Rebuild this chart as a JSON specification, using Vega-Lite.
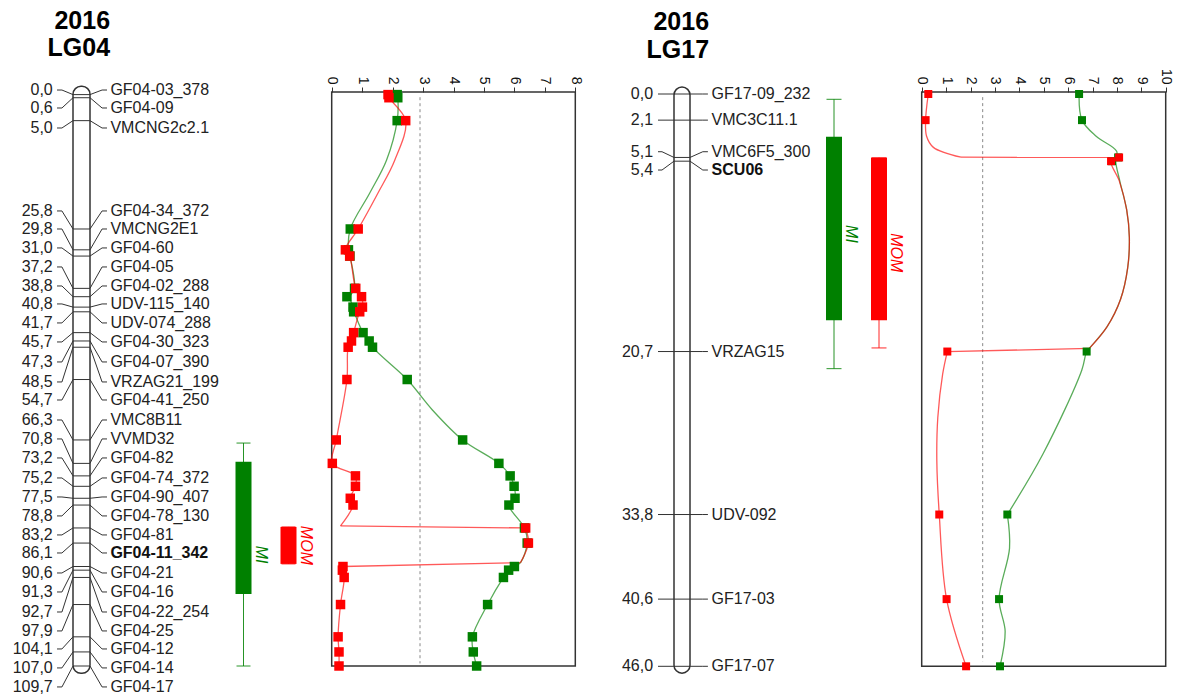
{
  "$schema": "https://vega.github.io/schema/vega-lite/v6.json",
  "width": 1177,
  "height": 698,
  "autosize": {"type": "none"},
  "padding": 0,
  "background": "white",
  "config": {
    "view": {"stroke": null},
    "font": "Liberation Sans",
    "locale": {"number": {"decimal": ",", "thousands": ".", "grouping": [3], "currency": ["", ""]}}
  },
  "datasets": {
    "chroms": [
      {"chr": "LG04", "year": "2016"},
      {"chr": "LG17", "year": "2016"}
    ],
    "map04": [
      {"marker": "GF04-03_378", "pos": 0.0, "labelPos": -0.88},
      {"marker": "GF04-09", "pos": 0.6, "labelPos": 2.57},
      {"marker": "VMCNG2c2.1", "pos": 5.0, "labelPos": 6.41},
      {"marker": "GF04-34_372", "pos": 25.8, "labelPos": 22.34},
      {"marker": "VMCNG2E1", "pos": 29.8, "labelPos": 25.8},
      {"marker": "GF04-60", "pos": 31.0, "labelPos": 29.44},
      {"marker": "GF04-05", "pos": 37.2, "labelPos": 33.09},
      {"marker": "GF04-02_288", "pos": 38.8, "labelPos": 36.74},
      {"marker": "UDV-115_140", "pos": 40.8, "labelPos": 40.19},
      {"marker": "UDV-074_288", "pos": 41.7, "labelPos": 43.84},
      {"marker": "GF04-30_323", "pos": 45.7, "labelPos": 47.49},
      {"marker": "GF04-07_390", "pos": 47.3, "labelPos": 51.33},
      {"marker": "VRZAG21_199", "pos": 48.5, "labelPos": 55.17},
      {"marker": "GF04-41_250", "pos": 54.7, "labelPos": 58.63},
      {"marker": "VMC8B11", "pos": 66.3, "labelPos": 62.47},
      {"marker": "VVMD32", "pos": 70.8, "labelPos": 66.11},
      {"marker": "GF04-82", "pos": 73.2, "labelPos": 69.76},
      {"marker": "GF04-74_372", "pos": 75.2, "labelPos": 73.6},
      {"marker": "GF04-90_407", "pos": 77.5, "labelPos": 77.25},
      {"marker": "GF04-78_130", "pos": 78.8, "labelPos": 80.89},
      {"marker": "GF04-81", "pos": 83.2, "labelPos": 84.54},
      {"marker": "GF04-11_342", "pos": 86.1, "labelPos": 88.0},
      {"marker": "GF04-21", "pos": 90.6, "labelPos": 91.84},
      {"marker": "GF04-16", "pos": 91.3, "labelPos": 95.49},
      {"marker": "GF04-22_254", "pos": 92.7, "labelPos": 99.33},
      {"marker": "GF04-25", "pos": 97.9, "labelPos": 102.97},
      {"marker": "GF04-12", "pos": 104.1, "labelPos": 106.43},
      {"marker": "GF04-14", "pos": 107.0, "labelPos": 110.07},
      {"marker": "GF04-17", "pos": 109.7, "labelPos": 113.72}
    ],
    "map17": [
      {"marker": "GF17-09_232", "pos": 0.0, "labelPos": 0.0},
      {"marker": "VMC3C11.1", "pos": 2.1, "labelPos": 2.1},
      {"marker": "VMC6F5_300", "pos": 5.1, "labelPos": 4.64},
      {"marker": "SCU06", "pos": 5.4, "labelPos": 6.11},
      {"marker": "VRZAG15", "pos": 20.7, "labelPos": 20.7},
      {"marker": "UDV-092", "pos": 33.8, "labelPos": 33.8},
      {"marker": "GF17-03", "pos": 40.6, "labelPos": 40.6},
      {"marker": "GF17-07", "pos": 46.0, "labelPos": 46.0}
    ],
    "qtl04": [
      {"trait": "MI", "lo": 66.9, "q1": 70.5, "q2": 95.9, "hi": 109.7},
      {"trait": "MOM", "lo": 83.0, "q1": 83.0, "q2": 90.1, "hi": 90.1}
    ],
    "qtl17": [
      {"trait": "MI", "lo": 0.43, "q1": 3.43, "q2": 18.18, "hi": 22.07},
      {"trait": "MOM", "lo": 5.12, "q1": 5.12, "q2": 18.18, "hi": 20.41}
    ],
    "lod04": [
      {"trait": "MI", "cM": 0.0, "lod": 2.15}, {"trait": "MI", "cM": 0.6, "lod": 2.17},
      {"trait": "MI", "cM": 5.0, "lod": 2.15}, {"trait": "MI", "cM": 25.8, "lod": 0.61},
      {"trait": "MI", "cM": 29.8, "lod": 0.55}, {"trait": "MI", "cM": 31.0, "lod": 0.6},
      {"trait": "MI", "cM": 37.2, "lod": 0.75}, {"trait": "MI", "cM": 38.8, "lod": 0.5},
      {"trait": "MI", "cM": 40.8, "lod": 0.7}, {"trait": "MI", "cM": 41.7, "lod": 0.72},
      {"trait": "MI", "cM": 45.7, "lod": 1.03}, {"trait": "MI", "cM": 47.3, "lod": 1.23},
      {"trait": "MI", "cM": 48.5, "lod": 1.34}, {"trait": "MI", "cM": 54.7, "lod": 2.48},
      {"trait": "MI", "cM": 66.3, "lod": 4.3}, {"trait": "MI", "cM": 70.8, "lod": 5.49},
      {"trait": "MI", "cM": 73.2, "lod": 5.86}, {"trait": "MI", "cM": 75.2, "lod": 5.99},
      {"trait": "MI", "cM": 77.5, "lod": 6.02}, {"trait": "MI", "cM": 78.8, "lod": 5.82},
      {"trait": "MI", "cM": 83.2, "lod": 6.33}, {"trait": "MI", "cM": 86.1, "lod": 6.42},
      {"trait": "MI", "cM": 90.6, "lod": 6.0}, {"trait": "MI", "cM": 91.3, "lod": 5.81},
      {"trait": "MI", "cM": 92.7, "lod": 5.64}, {"trait": "MI", "cM": 97.9, "lod": 5.12},
      {"trait": "MI", "cM": 104.1, "lod": 4.62}, {"trait": "MI", "cM": 107.0, "lod": 4.65},
      {"trait": "MI", "cM": 109.7, "lod": 4.76},
      {"trait": "MOM", "cM": 0.0, "lod": 1.85}, {"trait": "MOM", "cM": 0.6, "lod": 1.88},
      {"trait": "MOM", "cM": 5.0, "lod": 2.43}, {"trait": "MOM", "cM": 25.8, "lod": 0.87},
      {"trait": "MOM", "cM": 29.8, "lod": 0.45}, {"trait": "MOM", "cM": 31.0, "lod": 0.59},
      {"trait": "MOM", "cM": 37.2, "lod": 0.79}, {"trait": "MOM", "cM": 38.8, "lod": 0.98},
      {"trait": "MOM", "cM": 40.8, "lod": 1.01}, {"trait": "MOM", "cM": 41.7, "lod": 0.92},
      {"trait": "MOM", "cM": 45.7, "lod": 0.72}, {"trait": "MOM", "cM": 47.3, "lod": 0.65},
      {"trait": "MOM", "cM": 48.5, "lod": 0.54}, {"trait": "MOM", "cM": 54.7, "lod": 0.5},
      {"trait": "MOM", "cM": 66.3, "lod": 0.15}, {"trait": "MOM", "cM": 70.8, "lod": 0.02},
      {"trait": "MOM", "cM": 73.2, "lod": 0.78}, {"trait": "MOM", "cM": 75.2, "lod": 0.78},
      {"trait": "MOM", "cM": 77.5, "lod": 0.61}, {"trait": "MOM", "cM": 78.8, "lod": 0.7},
      {"trait": "MOM", "cM": 83.2, "lod": 6.37}, {"trait": "MOM", "cM": 86.1, "lod": 6.46},
      {"trait": "MOM", "cM": 90.6, "lod": 0.37}, {"trait": "MOM", "cM": 91.3, "lod": 0.35},
      {"trait": "MOM", "cM": 92.7, "lod": 0.41}, {"trait": "MOM", "cM": 97.9, "lod": 0.29},
      {"trait": "MOM", "cM": 104.1, "lod": 0.21}, {"trait": "MOM", "cM": 107.0, "lod": 0.24},
      {"trait": "MOM", "cM": 109.7, "lod": 0.24}
    ],
    "curve04": [
      {"trait": "MI", "seg": 1, "cM": 0.0, "lod": 2.15}, {"trait": "MI", "seg": 1, "cM": 0.6, "lod": 2.17},
      {"trait": "MI", "seg": 1, "cM": 5.0, "lod": 2.15}, {"trait": "MI", "seg": 1, "cM": 12.6, "lod": 1.8},
      {"trait": "MI", "seg": 1, "cM": 18.9, "lod": 1.25}, {"trait": "MI", "seg": 1, "cM": 25.8, "lod": 0.61},
      {"trait": "MI", "seg": 1, "cM": 29.8, "lod": 0.55}, {"trait": "MI", "seg": 1, "cM": 31.0, "lod": 0.6},
      {"trait": "MI", "seg": 1, "cM": 37.2, "lod": 0.75}, {"trait": "MI", "seg": 1, "cM": 38.8, "lod": 0.6},
      {"trait": "MI", "seg": 1, "cM": 40.8, "lod": 0.7}, {"trait": "MI", "seg": 1, "cM": 41.7, "lod": 0.74},
      {"trait": "MI", "seg": 1, "cM": 45.7, "lod": 1.03}, {"trait": "MI", "seg": 1, "cM": 47.3, "lod": 1.23},
      {"trait": "MI", "seg": 1, "cM": 48.5, "lod": 1.34}, {"trait": "MI", "seg": 1, "cM": 54.7, "lod": 2.48},
      {"trait": "MI", "seg": 1, "cM": 60.5, "lod": 3.3},
      {"trait": "MI", "seg": 1, "cM": 66.3, "lod": 4.3}, {"trait": "MI", "seg": 1, "cM": 70.8, "lod": 5.49},
      {"trait": "MI", "seg": 1, "cM": 73.2, "lod": 5.86}, {"trait": "MI", "seg": 1, "cM": 75.2, "lod": 5.99},
      {"trait": "MI", "seg": 1, "cM": 77.5, "lod": 6.02}, {"trait": "MI", "seg": 1, "cM": 78.8, "lod": 5.82},
      {"trait": "MI", "seg": 1, "cM": 83.2, "lod": 6.33}, {"trait": "MI", "seg": 1, "cM": 86.1, "lod": 6.42},
      {"trait": "MI", "seg": 1, "cM": 89.85, "lod": 6.2}, {"trait": "MI", "seg": 1, "cM": 90.6, "lod": 6.0},
      {"trait": "MI", "seg": 1, "cM": 91.3, "lod": 5.81}, {"trait": "MI", "seg": 1, "cM": 92.7, "lod": 5.64},
      {"trait": "MI", "seg": 1, "cM": 97.9, "lod": 5.12}, {"trait": "MI", "seg": 1, "cM": 104.1, "lod": 4.62},
      {"trait": "MI", "seg": 1, "cM": 107.0, "lod": 4.65}, {"trait": "MI", "seg": 1, "cM": 109.7, "lod": 4.76},
      {"trait": "MOM", "seg": 1, "cM": 0.0, "lod": 1.85}, {"trait": "MOM", "seg": 1, "cM": 0.6, "lod": 1.88},
      {"trait": "MOM", "seg": 1, "cM": 5.0, "lod": 2.43}, {"trait": "MOM", "seg": 1, "cM": 12.6, "lod": 2.07},
      {"trait": "MOM", "seg": 1, "cM": 18.9, "lod": 1.52}, {"trait": "MOM", "seg": 1, "cM": 25.8, "lod": 0.87},
      {"trait": "MOM", "seg": 1, "cM": 29.8, "lod": 0.45}, {"trait": "MOM", "seg": 1, "cM": 31.0, "lod": 0.59},
      {"trait": "MOM", "seg": 1, "cM": 37.2, "lod": 0.79}, {"trait": "MOM", "seg": 1, "cM": 38.8, "lod": 0.98},
      {"trait": "MOM", "seg": 1, "cM": 40.8, "lod": 1.01}, {"trait": "MOM", "seg": 1, "cM": 41.7, "lod": 0.92},
      {"trait": "MOM", "seg": 1, "cM": 45.7, "lod": 0.72}, {"trait": "MOM", "seg": 1, "cM": 47.3, "lod": 0.65},
      {"trait": "MOM", "seg": 1, "cM": 48.5, "lod": 0.54}, {"trait": "MOM", "seg": 1, "cM": 54.7, "lod": 0.5},
      {"trait": "MOM", "seg": 1, "cM": 66.3, "lod": 0.15}, {"trait": "MOM", "seg": 1, "cM": 70.8, "lod": 0.02},
      {"trait": "MOM", "seg": 1, "cM": 73.2, "lod": 0.78}, {"trait": "MOM", "seg": 1, "cM": 75.2, "lod": 0.78},
      {"trait": "MOM", "seg": 1, "cM": 77.5, "lod": 0.61}, {"trait": "MOM", "seg": 1, "cM": 78.8, "lod": 0.7},
      {"trait": "MOM", "seg": 1, "cM": 82.8, "lod": 0.29},
      {"trait": "MOM", "seg": 2, "cM": 82.8, "lod": 0.29}, {"trait": "MOM", "seg": 2, "cM": 83.2, "lod": 6.37},
      {"trait": "MOM", "seg": 3, "cM": 83.2, "lod": 6.37}, {"trait": "MOM", "seg": 3, "cM": 86.1, "lod": 6.46},
      {"trait": "MOM", "seg": 3, "cM": 89.85, "lod": 6.2},
      {"trait": "MOM", "seg": 4, "cM": 89.85, "lod": 6.2}, {"trait": "MOM", "seg": 4, "cM": 90.6, "lod": 0.37},
      {"trait": "MOM", "seg": 5, "cM": 90.6, "lod": 0.37}, {"trait": "MOM", "seg": 5, "cM": 91.3, "lod": 0.35},
      {"trait": "MOM", "seg": 5, "cM": 92.7, "lod": 0.41}, {"trait": "MOM", "seg": 5, "cM": 97.9, "lod": 0.29},
      {"trait": "MOM", "seg": 5, "cM": 104.1, "lod": 0.21}, {"trait": "MOM", "seg": 5, "cM": 107.0, "lod": 0.24},
      {"trait": "MOM", "seg": 5, "cM": 109.7, "lod": 0.24}
    ],
    "lod17": [
      {"trait": "MI", "cM": 0.0, "lod": 6.45}, {"trait": "MI", "cM": 2.1, "lod": 6.57},
      {"trait": "MI", "cM": 5.1, "lod": 8.05}, {"trait": "MI", "cM": 5.4, "lod": 7.8},
      {"trait": "MI", "cM": 20.7, "lod": 6.76}, {"trait": "MI", "cM": 33.8, "lod": 3.51},
      {"trait": "MI", "cM": 40.6, "lod": 3.17}, {"trait": "MI", "cM": 46.0, "lod": 3.21},
      {"trait": "MOM", "cM": 0.0, "lod": 0.27}, {"trait": "MOM", "cM": 2.1, "lod": 0.16},
      {"trait": "MOM", "cM": 5.1, "lod": 8.09}, {"trait": "MOM", "cM": 5.4, "lod": 7.76},
      {"trait": "MOM", "cM": 20.7, "lod": 1.05}, {"trait": "MOM", "cM": 33.8, "lod": 0.72},
      {"trait": "MOM", "cM": 40.6, "lod": 1.02}, {"trait": "MOM", "cM": 46.0, "lod": 1.82}
    ],
    "curve17": [
      {"trait": "MI", "seg": 1, "cM": 0.0, "lod": 6.45}, {"trait": "MI", "seg": 1, "cM": 2.1, "lod": 6.57},
      {"trait": "MI", "seg": 1, "cM": 3.4, "lod": 7.15}, {"trait": "MI", "seg": 1, "cM": 4.6, "lod": 7.99},
      {"trait": "MI", "seg": 1, "cM": 5.4, "lod": 7.95}, {"trait": "MI", "seg": 1, "cM": 7.0, "lod": 8.12},
      {"trait": "MI", "seg": 1, "cM": 9.3, "lod": 8.4}, {"trait": "MI", "seg": 1, "cM": 11.5, "lod": 8.51},
      {"trait": "MI", "seg": 1, "cM": 14.0, "lod": 8.44}, {"trait": "MI", "seg": 1, "cM": 16.5, "lod": 8.15},
      {"trait": "MI", "seg": 1, "cM": 18.7, "lod": 7.6}, {"trait": "MI", "seg": 1, "cM": 20.45, "lod": 6.87},
      {"trait": "MI", "seg": 1, "cM": 20.7, "lod": 6.76}, {"trait": "MI", "seg": 1, "cM": 22.2, "lod": 6.56},
      {"trait": "MI", "seg": 1, "cM": 28.9, "lod": 4.98}, {"trait": "MI", "seg": 1, "cM": 33.8, "lod": 3.51},
      {"trait": "MI", "seg": 2, "cM": 33.8, "lod": 3.51},
      {"trait": "MI", "seg": 2, "cM": 36.5, "lod": 3.6}, {"trait": "MI", "seg": 2, "cM": 40.6, "lod": 3.17},
      {"trait": "MI", "seg": 2, "cM": 43.2, "lod": 3.42}, {"trait": "MI", "seg": 2, "cM": 46.0, "lod": 3.21},
      {"trait": "MOM", "seg": 1, "cM": 0.0, "lod": 0.27}, {"trait": "MOM", "seg": 1, "cM": 2.1, "lod": 0.16},
      {"trait": "MOM", "seg": 1, "cM": 3.4, "lod": 0.2}, {"trait": "MOM", "seg": 1, "cM": 4.29, "lod": 0.48},
      {"trait": "MOM", "seg": 1, "cM": 5.08, "lod": 1.61},
      {"trait": "MOM", "seg": 2, "cM": 5.08, "lod": 1.61}, {"trait": "MOM", "seg": 2, "cM": 5.1, "lod": 8.09},
      {"trait": "MOM", "seg": 3, "cM": 5.1, "lod": 8.09}, {"trait": "MOM", "seg": 3, "cM": 5.4, "lod": 7.76},
      {"trait": "MOM", "seg": 3, "cM": 7.0, "lod": 8.1}, {"trait": "MOM", "seg": 3, "cM": 9.3, "lod": 8.4},
      {"trait": "MOM", "seg": 3, "cM": 11.5, "lod": 8.51}, {"trait": "MOM", "seg": 3, "cM": 14.0, "lod": 8.44},
      {"trait": "MOM", "seg": 3, "cM": 16.5, "lod": 8.15}, {"trait": "MOM", "seg": 3, "cM": 18.7, "lod": 7.6},
      {"trait": "MOM", "seg": 3, "cM": 20.45, "lod": 6.87},
      {"trait": "MOM", "seg": 4, "cM": 20.45, "lod": 6.87}, {"trait": "MOM", "seg": 4, "cM": 20.7, "lod": 1.05},
      {"trait": "MOM", "seg": 5, "cM": 20.7, "lod": 1.05}, {"trait": "MOM", "seg": 5, "cM": 22.5, "lod": 0.86},
      {"trait": "MOM", "seg": 5, "cM": 26.0, "lod": 0.66}, {"trait": "MOM", "seg": 5, "cM": 29.5, "lod": 0.62},
      {"trait": "MOM", "seg": 5, "cM": 33.8, "lod": 0.72}, {"trait": "MOM", "seg": 5, "cM": 40.6, "lod": 1.02},
      {"trait": "MOM", "seg": 5, "cM": 46.0, "lod": 1.82}
    ]
  },
  "resolve": {"scale": {"x": "independent", "y": "independent"}},
  "layer": [
    {
      "data": {"name": "map04"},
      "layer": [
        {
          "data": {"name": "chroms"},
          "transform": [{"filter": "datum.chr === 'LG04'"}],
          "mark": {"type": "rect", "fill": "white", "stroke": "#333333", "strokeWidth": 1.5, "cornerRadius": 8},
          "encoding": {
            "x": {"datum": 0, "type": "quantitative", "scale": {"domain": [0, 1], "range": [73, 90], "nice": false, "zero": false}, "axis": null},
            "x2": {"datum": 1},
            "y": {"datum": -1.6, "type": "quantitative", "scale": {"domain": [0, 109.7], "range": [94.6, 666], "nice": false, "zero": false}, "axis": null},
            "y2": {"datum": 111.1}
          }
        },
        {
          "mark": {"type": "rule", "stroke": "#333333", "strokeWidth": 1},
          "encoding": {
            "x": {"datum": 0, "type": "quantitative", "axis": null},
            "x2": {"datum": 1},
            "y": {"field": "pos", "type": "quantitative", "axis": null}
          }
        },
        {
          "mark": {"type": "rule", "stroke": "#333333", "strokeWidth": 1},
          "encoding": {
            "x": {"datum": -0.94, "type": "quantitative", "axis": null},
            "x2": {"datum": -0.65},
            "y": {"field": "labelPos", "type": "quantitative", "axis": null}
          }
        },
        {
          "mark": {"type": "rule", "stroke": "#333333", "strokeWidth": 1},
          "encoding": {
            "x": {"datum": -0.65, "type": "quantitative", "axis": null},
            "x2": {"datum": 0},
            "y": {"field": "labelPos", "type": "quantitative", "axis": null},
            "y2": {"field": "pos"}
          }
        },
        {
          "mark": {"type": "rule", "stroke": "#333333", "strokeWidth": 1},
          "encoding": {
            "x": {"datum": 1, "type": "quantitative", "axis": null},
            "x2": {"datum": 1.71},
            "y": {"field": "pos", "type": "quantitative", "axis": null},
            "y2": {"field": "labelPos"}
          }
        },
        {
          "mark": {"type": "rule", "stroke": "#333333", "strokeWidth": 1},
          "encoding": {
            "x": {"datum": 1.71, "type": "quantitative", "axis": null},
            "x2": {"datum": 2.0},
            "y": {"field": "labelPos", "type": "quantitative", "axis": null}
          }
        },
        {
          "mark": {"type": "text", "align": "right", "baseline": "middle", "fontSize": 16, "color": "#222222"},
          "encoding": {
            "x": {"datum": -1.19, "type": "quantitative", "axis": null},
            "y": {"field": "labelPos", "type": "quantitative", "axis": null},
            "text": {"field": "pos", "type": "quantitative", "format": ".1f"}
          }
        },
        {
          "transform": [{"filter": "datum.marker !== 'GF04-11_342'"}],
          "mark": {"type": "text", "align": "left", "baseline": "middle", "fontSize": 16, "color": "#222222"},
          "encoding": {
            "x": {"datum": 2.2, "type": "quantitative", "axis": null},
            "y": {"field": "labelPos", "type": "quantitative", "axis": null},
            "text": {"field": "marker", "type": "nominal"}
          }
        },
        {
          "transform": [{"filter": "datum.marker === 'GF04-11_342'"}],
          "mark": {"type": "text", "align": "left", "baseline": "middle", "fontSize": 16, "fontWeight": "bold", "color": "#111111"},
          "encoding": {
            "x": {"datum": 2.2, "type": "quantitative", "axis": null},
            "y": {"field": "labelPos", "type": "quantitative", "axis": null},
            "text": {"field": "marker", "type": "nominal"}
          }
        },
        {
          "data": {"name": "chroms"},
          "transform": [{"filter": "datum.chr === 'LG04'"}],
          "mark": {"type": "text", "align": "right", "baseline": "middle", "fontSize": 25, "fontWeight": "bold", "color": "#000000"},
          "encoding": {
            "x": {"datum": 2.18, "type": "quantitative", "axis": null},
            "y": {"datum": -14.05, "type": "quantitative", "axis": null},
            "text": {"field": "year", "type": "nominal"}
          }
        },
        {
          "data": {"name": "chroms"},
          "transform": [{"filter": "datum.chr === 'LG04'"}],
          "mark": {"type": "text", "align": "right", "baseline": "middle", "fontSize": 25, "fontWeight": "bold", "color": "#000000"},
          "encoding": {
            "x": {"datum": 2.18, "type": "quantitative", "axis": null},
            "y": {"datum": -8.96, "type": "quantitative", "axis": null},
            "text": {"field": "chr", "type": "nominal"}
          }
        }
      ]
    },
    {
      "data": {"name": "qtl04"},
      "layer": [
        {
          "mark": {"type": "rule", "strokeWidth": 1, "opacity": 0.85},
          "encoding": {
            "x": {"field": "trait", "type": "nominal", "scale": {"type": "point", "domain": ["MI", "MOM"], "range": [243.5, 288.5], "padding": 0}, "axis": null},
            "y": {"field": "lo", "type": "quantitative", "scale": {"domain": [0, 109.7], "range": [94.6, 666], "nice": false, "zero": false}, "axis": null},
            "y2": {"field": "hi"},
            "color": {"field": "trait", "type": "nominal", "scale": {"domain": ["MI", "MOM"], "range": ["#008000", "#ff0000"]}, "legend": null}
          }
        },
        {
          "mark": {"type": "tick", "size": 14, "thickness": 1.2},
          "encoding": {
            "x": {"field": "trait", "type": "nominal", "axis": null},
            "y": {"field": "lo", "type": "quantitative", "axis": null},
            "color": {"field": "trait", "type": "nominal", "legend": null}
          }
        },
        {
          "mark": {"type": "tick", "size": 14, "thickness": 1.2},
          "encoding": {
            "x": {"field": "trait", "type": "nominal", "axis": null},
            "y": {"field": "hi", "type": "quantitative", "axis": null},
            "color": {"field": "trait", "type": "nominal", "legend": null}
          }
        },
        {
          "mark": {"type": "bar", "width": 16},
          "encoding": {
            "x": {"field": "trait", "type": "nominal", "axis": null},
            "y": {"field": "q1", "type": "quantitative", "axis": null},
            "y2": {"field": "q2"},
            "color": {"field": "trait", "type": "nominal", "legend": null}
          }
        },
        {
          "transform": [{"calculate": "(datum.lo + datum.hi) / 2", "as": "mid"}],
          "mark": {"type": "text", "angle": 90, "dy": -17, "align": "center", "baseline": "middle", "fontSize": 16, "fontStyle": "italic"},
          "encoding": {
            "x": {"field": "trait", "type": "nominal", "axis": null},
            "y": {"field": "mid", "type": "quantitative", "axis": null},
            "text": {"field": "trait", "type": "nominal"},
            "color": {"field": "trait", "type": "nominal", "legend": null}
          }
        }
      ]
    },
    {
      "layer": [
        {
          "data": {"name": "chroms"},
          "transform": [{"filter": "datum.chr === 'LG04'"}],
          "mark": {"type": "rect", "fill": "white", "fillOpacity": 0, "stroke": "#333333", "strokeWidth": 1.5},
          "encoding": {
            "x": {"datum": 0, "type": "quantitative", "scale": {"domain": [0, 8], "range": [331.7, 575.3], "nice": false, "zero": false}, "axis": null},
            "x2": {"datum": 8},
            "y": {"datum": -0.5, "type": "quantitative", "scale": {"domain": [0, 109.7], "range": [94.6, 666], "nice": false, "zero": false}, "axis": null},
            "y2": {"datum": 109.7}
          }
        },
        {
          "data": {"name": "chroms"},
          "transform": [{"filter": "datum.chr === 'LG04'"}],
          "mark": {"type": "rule", "stroke": "#888888", "strokeWidth": 1, "strokeDash": [3, 3]},
          "encoding": {
            "x": {"datum": 2.9, "type": "quantitative", "axis": null},
            "y": {"datum": 0.5, "type": "quantitative", "axis": null},
            "y2": {"datum": 109.2}
          }
        },
        {
          "data": {"name": "curve04"},
          "mark": {"type": "line", "interpolate": "catmull-rom", "strokeWidth": 1.3, "opacity": 0.65},
          "encoding": {
            "x": {"field": "lod", "type": "quantitative", "axis": null},
            "y": {"field": "cM", "type": "quantitative", "axis": null},
            "color": {"field": "trait", "type": "nominal", "legend": null},
            "detail": {"field": "seg", "type": "nominal"},
            "order": {"field": "cM", "type": "quantitative"}
          }
        }
      ]
    },
    {
      "data": {"name": "lod04"},
      "mark": {"type": "point", "shape": "square", "filled": true, "size": 90, "opacity": 1},
      "encoding": {
        "x": {"field": "lod", "type": "quantitative", "scale": {"domain": [0, 8], "range": [331.7, 575.3], "nice": false, "zero": false},
              "axis": {"orient": "top", "offset": -92, "values": [0, 1, 2, 3, 4, 5, 6, 7, 8], "format": "d", "domain": false, "grid": false, "title": null, "ticks": true, "tickSize": 5, "tickColor": "#333333", "tickWidth": 1, "labelAngle": 90, "labelAlign": "right", "labelBaseline": "middle", "labelPadding": 3, "labelFontSize": 14, "labelColor": "#111111", "labelFlush": false, "labelOverlap": false}},
        "y": {"field": "cM", "type": "quantitative", "scale": {"domain": [0, 109.7], "range": [94.6, 666], "nice": false, "zero": false}, "axis": null},
        "color": {"field": "trait", "type": "nominal", "legend": null}
      }
    },
    {
      "data": {"name": "map17"},
      "layer": [
        {
          "data": {"name": "chroms"},
          "transform": [{"filter": "datum.chr === 'LG17'"}],
          "mark": {"type": "rect", "fill": "white", "stroke": "#333333", "strokeWidth": 1.5, "cornerRadius": 8},
          "encoding": {
            "x": {"datum": 0, "type": "quantitative", "scale": {"domain": [0, 1], "range": [674, 690], "nice": false, "zero": false}, "axis": null},
            "x2": {"datum": 1},
            "y": {"datum": -0.56, "type": "quantitative", "scale": {"domain": [0, 46], "range": [94, 666.3], "nice": false, "zero": false}, "axis": null},
            "y2": {"datum": 46.55}
          }
        },
        {
          "mark": {"type": "rule", "stroke": "#333333", "strokeWidth": 1},
          "encoding": {
            "x": {"datum": 0, "type": "quantitative", "axis": null},
            "x2": {"datum": 1},
            "y": {"field": "pos", "type": "quantitative", "axis": null}
          }
        },
        {
          "mark": {"type": "rule", "stroke": "#333333", "strokeWidth": 1},
          "encoding": {
            "x": {"datum": -1.0, "type": "quantitative", "axis": null},
            "x2": {"datum": -0.75},
            "y": {"field": "labelPos", "type": "quantitative", "axis": null}
          }
        },
        {
          "mark": {"type": "rule", "stroke": "#333333", "strokeWidth": 1},
          "encoding": {
            "x": {"datum": -0.75, "type": "quantitative", "axis": null},
            "x2": {"datum": 0},
            "y": {"field": "labelPos", "type": "quantitative", "axis": null},
            "y2": {"field": "pos"}
          }
        },
        {
          "mark": {"type": "rule", "stroke": "#333333", "strokeWidth": 1},
          "encoding": {
            "x": {"datum": 1, "type": "quantitative", "axis": null},
            "x2": {"datum": 1.8},
            "y": {"field": "pos", "type": "quantitative", "axis": null},
            "y2": {"field": "labelPos"}
          }
        },
        {
          "mark": {"type": "rule", "stroke": "#333333", "strokeWidth": 1},
          "encoding": {
            "x": {"datum": 1.8, "type": "quantitative", "axis": null},
            "x2": {"datum": 2.12},
            "y": {"field": "labelPos", "type": "quantitative", "axis": null}
          }
        },
        {
          "mark": {"type": "text", "align": "right", "baseline": "middle", "fontSize": 16, "color": "#222222"},
          "encoding": {
            "x": {"datum": -1.31, "type": "quantitative", "axis": null},
            "y": {"field": "labelPos", "type": "quantitative", "axis": null},
            "text": {"field": "pos", "type": "quantitative", "format": ".1f"}
          }
        },
        {
          "transform": [{"filter": "datum.marker !== 'SCU06'"}],
          "mark": {"type": "text", "align": "left", "baseline": "middle", "fontSize": 16, "color": "#222222"},
          "encoding": {
            "x": {"datum": 2.35, "type": "quantitative", "axis": null},
            "y": {"field": "labelPos", "type": "quantitative", "axis": null},
            "text": {"field": "marker", "type": "nominal"}
          }
        },
        {
          "transform": [{"filter": "datum.marker === 'SCU06'"}],
          "mark": {"type": "text", "align": "left", "baseline": "middle", "fontSize": 16, "fontWeight": "bold", "color": "#111111"},
          "encoding": {
            "x": {"datum": 2.35, "type": "quantitative", "axis": null},
            "y": {"field": "labelPos", "type": "quantitative", "axis": null},
            "text": {"field": "marker", "type": "nominal"}
          }
        },
        {
          "data": {"name": "chroms"},
          "transform": [{"filter": "datum.chr === 'LG17'"}],
          "mark": {"type": "text", "align": "right", "baseline": "middle", "fontSize": 25, "fontWeight": "bold", "color": "#000000"},
          "encoding": {
            "x": {"datum": 2.19, "type": "quantitative", "axis": null},
            "y": {"datum": -5.76, "type": "quantitative", "axis": null},
            "text": {"field": "year", "type": "nominal"}
          }
        },
        {
          "data": {"name": "chroms"},
          "transform": [{"filter": "datum.chr === 'LG17'"}],
          "mark": {"type": "text", "align": "right", "baseline": "middle", "fontSize": 25, "fontWeight": "bold", "color": "#000000"},
          "encoding": {
            "x": {"datum": 2.19, "type": "quantitative", "axis": null},
            "y": {"datum": -3.55, "type": "quantitative", "axis": null},
            "text": {"field": "chr", "type": "nominal"}
          }
        }
      ]
    },
    {
      "data": {"name": "qtl17"},
      "layer": [
        {
          "mark": {"type": "rule", "strokeWidth": 1, "opacity": 0.85},
          "encoding": {
            "x": {"field": "trait", "type": "nominal", "scale": {"type": "point", "domain": ["MI", "MOM"], "range": [834, 879], "padding": 0}, "axis": null},
            "y": {"field": "lo", "type": "quantitative", "scale": {"domain": [0, 46], "range": [94, 666.3], "nice": false, "zero": false}, "axis": null},
            "y2": {"field": "hi"},
            "color": {"field": "trait", "type": "nominal", "legend": null}
          }
        },
        {
          "mark": {"type": "tick", "size": 15, "thickness": 1.2},
          "encoding": {
            "x": {"field": "trait", "type": "nominal", "axis": null},
            "y": {"field": "lo", "type": "quantitative", "axis": null},
            "color": {"field": "trait", "type": "nominal", "legend": null}
          }
        },
        {
          "mark": {"type": "tick", "size": 15, "thickness": 1.2},
          "encoding": {
            "x": {"field": "trait", "type": "nominal", "axis": null},
            "y": {"field": "hi", "type": "quantitative", "axis": null},
            "color": {"field": "trait", "type": "nominal", "legend": null}
          }
        },
        {
          "mark": {"type": "bar", "width": 16},
          "encoding": {
            "x": {"field": "trait", "type": "nominal", "axis": null},
            "y": {"field": "q1", "type": "quantitative", "axis": null},
            "y2": {"field": "q2"},
            "color": {"field": "trait", "type": "nominal", "legend": null}
          }
        },
        {
          "transform": [{"calculate": "(datum.lo + datum.hi) / 2", "as": "mid"}],
          "mark": {"type": "text", "angle": 90, "dy": -17, "align": "center", "baseline": "middle", "fontSize": 16, "fontStyle": "italic"},
          "encoding": {
            "x": {"field": "trait", "type": "nominal", "axis": null},
            "y": {"field": "mid", "type": "quantitative", "axis": null},
            "text": {"field": "trait", "type": "nominal"},
            "color": {"field": "trait", "type": "nominal", "legend": null}
          }
        }
      ]
    },
    {
      "layer": [
        {
          "data": {"name": "chroms"},
          "transform": [{"filter": "datum.chr === 'LG17'"}],
          "mark": {"type": "rect", "fill": "white", "fillOpacity": 0, "stroke": "#333333", "strokeWidth": 1.5},
          "encoding": {
            "x": {"datum": 0, "type": "quantitative", "scale": {"domain": [0, 10], "range": [921.7, 1165.7], "nice": false, "zero": false}, "axis": null},
            "x2": {"datum": 10},
            "y": {"datum": -0.16, "type": "quantitative", "scale": {"domain": [0, 46], "range": [94, 666.3], "nice": false, "zero": false}, "axis": null},
            "y2": {"datum": 46.0}
          }
        },
        {
          "data": {"name": "chroms"},
          "transform": [{"filter": "datum.chr === 'LG17'"}],
          "mark": {"type": "rule", "stroke": "#888888", "strokeWidth": 1, "strokeDash": [3, 3]},
          "encoding": {
            "x": {"datum": 2.5, "type": "quantitative", "axis": null},
            "y": {"datum": 0.25, "type": "quantitative", "axis": null},
            "y2": {"datum": 45.6}
          }
        },
        {
          "data": {"name": "curve17"},
          "mark": {"type": "line", "interpolate": "catmull-rom", "strokeWidth": 1.3, "opacity": 0.65},
          "encoding": {
            "x": {"field": "lod", "type": "quantitative", "axis": null},
            "y": {"field": "cM", "type": "quantitative", "axis": null},
            "color": {"field": "trait", "type": "nominal", "legend": null},
            "detail": {"field": "seg", "type": "nominal"},
            "order": {"field": "cM", "type": "quantitative"}
          }
        }
      ]
    },
    {
      "data": {"name": "lod17"},
      "mark": {"type": "point", "shape": "square", "filled": true, "size": 64, "opacity": 1},
      "encoding": {
        "x": {"field": "lod", "type": "quantitative", "scale": {"domain": [0, 10], "range": [921.7, 1165.7], "nice": false, "zero": false},
              "axis": {"orient": "top", "offset": -92, "values": [0, 1, 2, 3, 4, 5, 6, 7, 8, 9, 10], "format": "d", "domain": false, "grid": false, "title": null, "ticks": true, "tickSize": 5, "tickColor": "#333333", "tickWidth": 1, "labelAngle": 90, "labelAlign": "right", "labelBaseline": "middle", "labelPadding": 3, "labelFontSize": 14, "labelColor": "#111111", "labelFlush": false, "labelOverlap": false}},
        "y": {"field": "cM", "type": "quantitative", "scale": {"domain": [0, 46], "range": [94, 666.3], "nice": false, "zero": false}, "axis": null},
        "color": {"field": "trait", "type": "nominal", "legend": null}
      }
    }
  ]
}
